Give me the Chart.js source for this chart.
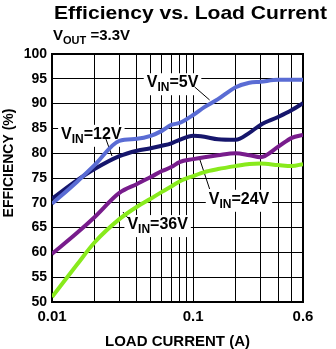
<!DOCTYPE html>
<html>
<head>
<meta charset="utf-8">
<script src="https://cdn.jsdelivr.net/npm/chart.js@4/dist/chart.umd.min.js"></script>
<style>
  html, body { margin: 0; padding: 0; background: #fff; }
  #wrap { width: 336px; height: 349px; position: relative; }
</style>
</head>
<body>
<div id="wrap"><canvas id="eff"></canvas></div>
<script>
// Load current (A) sample points and efficiency (%) per input voltage
const loadCurrent = [0.01, 0.015, 0.02, 0.03, 0.04, 0.05, 0.06, 0.07, 0.08, 0.1, 0.12, 0.15, 0.2, 0.25, 0.3, 0.4, 0.5, 0.6];
const eff5V  = [69.8, 74.2, 77.6, 82.5, 82.9, 83.5, 84.5, 85.7, 86.1, 87.7, 89.3, 90.9, 93.3, 94.2, 94.4, 94.8, 94.8, 94.8];
const eff12V = [70.8, 74.5, 76.8, 79.4, 80.5, 81.0, 81.5, 82.0, 82.7, 83.5, 83.3, 82.8, 82.7, 84.1, 85.7, 87.3, 88.7, 90.1];
const eff24V = [59.7, 63.9, 67.1, 72.0, 73.8, 75.2, 76.4, 77.2, 78.2, 78.8, 79.2, 79.6, 80.0, 79.6, 79.2, 81.3, 83.1, 83.7];
const eff36V = [51.0, 57.5, 62.0, 66.7, 69.2, 70.8, 72.2, 73.3, 74.3, 75.4, 76.2, 76.8, 77.4, 77.8, 77.9, 77.6, 77.4, 77.8];

const seriesNames = ['5V', '12V', '24V', '36V'];
const seriesColors = ['#5a6cd4', '#16166c', '#781c8c', '#88ea1c'];

// log grid lines, only a few of them get a label
const xGridTicks = [0.01, 0.02, 0.03, 0.04, 0.05, 0.06, 0.07, 0.08, 0.09, 0.1, 0.2, 0.3, 0.4, 0.5, 0.6];
const xTickLabels = ['0.01', '0.1', '0.6'];

// callout text + leader line (data units): [label, textX, textY, lineX1, lineY1, lineX2, lineY2]
const callouts = [
  ['5V',  0.0469, 93.3, 0.1025, 93.35, 0.1308, 90.73],
  ['12V', 0.0116, 82.9, 0.0241, 82.86, 0.0266, 79.44],
  ['24V', 0.1290, 69.8, 0.1308, 72.78, 0.1112, 78.83],
  ['36V', 0.0342, 64.7, 0.0345, 66.94, 0.0318, 68.15]
];

const FONT = "'Liberation Sans', Arial, sans-serif";

function subText(ctx, x, y, main, sub, rest, size) {
  ctx.font = 'bold ' + size + 'px ' + FONT;
  ctx.fillText(main, x, y);
  x += ctx.measureText(main).width;
  const subSize = Math.round(size * 0.75);
  ctx.font = 'bold ' + subSize + 'px ' + FONT;
  ctx.fillText(sub, x, y + 4);
  x += ctx.measureText(sub).width;
  ctx.font = 'bold ' + size + 'px ' + FONT;
  ctx.fillText(rest, x, y);
  x += ctx.measureText(rest).width;
  return x;
}

const decorations = {
  id: 'decorations',
  beforeDatasetsDraw(chart) {
    const { ctx, chartArea: a, scales: { x, y } } = chart;
    ctx.save();
    ctx.textBaseline = 'alphabetic';
    ctx.textAlign = 'left';
    callouts.forEach(c => {
      const tx = x.getPixelForValue(c[1]);
      const ty = y.getPixelForValue(c[2]);
      // measure first so the white box can knock out the grid
      ctx.fillStyle = '#000';
      ctx.globalAlpha = 0;
      const endX = subText(ctx, tx, ty, 'V', 'IN', '=' + c[0], 16);
      ctx.globalAlpha = 1;
      ctx.fillStyle = '#fff';
      ctx.fillRect(tx - 3, ty - 14, endX - tx + 6, 22);
      ctx.strokeStyle = '#000';
      ctx.lineWidth = 1;
      ctx.beginPath();
      ctx.moveTo(x.getPixelForValue(c[3]), y.getPixelForValue(c[4]));
      ctx.lineTo(x.getPixelForValue(c[5]), y.getPixelForValue(c[6]));
      ctx.stroke();
      ctx.fillStyle = '#000';
      subText(ctx, tx, ty, 'V', 'IN', '=' + c[0], 16);
    });
    // heavy frame round the plot
    ctx.strokeStyle = '#000';
    ctx.lineWidth = 2;
    ctx.strokeRect(a.left, a.top, a.right - a.left, a.bottom - a.top);
    ctx.restore();
  },
  afterDraw(chart) {
    const { ctx, chartArea: a } = chart;
    ctx.save();
    ctx.fillStyle = '#000';
    ctx.textBaseline = 'alphabetic';

    // main heading, stretched to the width of the plot header
    const title = 'Efficiency vs. Load Current';
    ctx.font = 'bold 19px ' + FONT;
    const w = ctx.measureText(title).width;
    ctx.save();
    ctx.translate(54, 19);
    ctx.scale(273 / w, 1);
    ctx.textAlign = 'left';
    ctx.fillText(title, 0, 0);
    ctx.restore();

    ctx.textAlign = 'left';
    subText(ctx, 53, 40, 'V', 'OUT', ' =3.3V', 15);

    // axis titles
    ctx.font = 'bold 15px ' + FONT;
    ctx.textAlign = 'center';
    ctx.fillText('LOAD CURRENT (A)', (a.left + a.right) / 2, 346);

    ctx.save();
    ctx.translate(13, 163);
    ctx.rotate(-Math.PI / 2);
    ctx.font = 'bold 14px ' + FONT;
    ctx.fillText('EFFICIENCY (%)', 0, 0);
    ctx.restore();
    ctx.restore();
  }
};

const datasets = [eff5V, eff12V, eff24V, eff36V].map((vals, i) => ({
  label: 'VIN=' + seriesNames[i],
  data: loadCurrent.map((c, j) => ({ x: c, y: vals[j] })),
  borderColor: seriesColors[i],
  borderWidth: 4,
  pointRadius: 0,
  cubicInterpolationMode: 'monotone',
  fill: false
}));

new Chart(document.getElementById('eff'), {
  type: 'line',
  data: { datasets: datasets },
  options: {
    responsive: true,
    maintainAspectRatio: false,
    animation: false,
    layout: { padding: { top: 54, right: 33, left: 0, bottom: 0 } },
    plugins: {
      legend: { display: false },
      tooltip: { enabled: false },
      title: { display: false }
    },
    scales: {
      x: {
        type: 'logarithmic',
        min: 0.01,
        max: 0.6,
        afterBuildTicks: (scale) => {
          scale.ticks = xGridTicks.map(v => ({ value: v }));
        },
        afterFit: (scale) => { scale.height = 47; },
        ticks: {
          autoSkip: false,
          maxRotation: 0,
          padding: 6,
          color: '#000',
          font: { family: FONT, size: 15, weight: 'bold' },
          callback: (val) => {
            const s = String(Number(val.toPrecision(2)));
            return xTickLabels.includes(s) ? s : '';
          }
        },
        grid: { color: '#000', lineWidth: 1, drawTicks: false },
        border: { display: false }
      },
      y: {
        min: 50,
        max: 100,
        afterFit: (scale) => { scale.width = 52; },
        ticks: {
          stepSize: 5,
          padding: 5,
          color: '#000',
          font: { family: FONT, size: 14, weight: 'bold' }
        },
        grid: { color: '#000', lineWidth: 1, drawTicks: false },
        border: { display: false }
      }
    }
  },
  plugins: [decorations]
});
</script>
</body>
</html>
